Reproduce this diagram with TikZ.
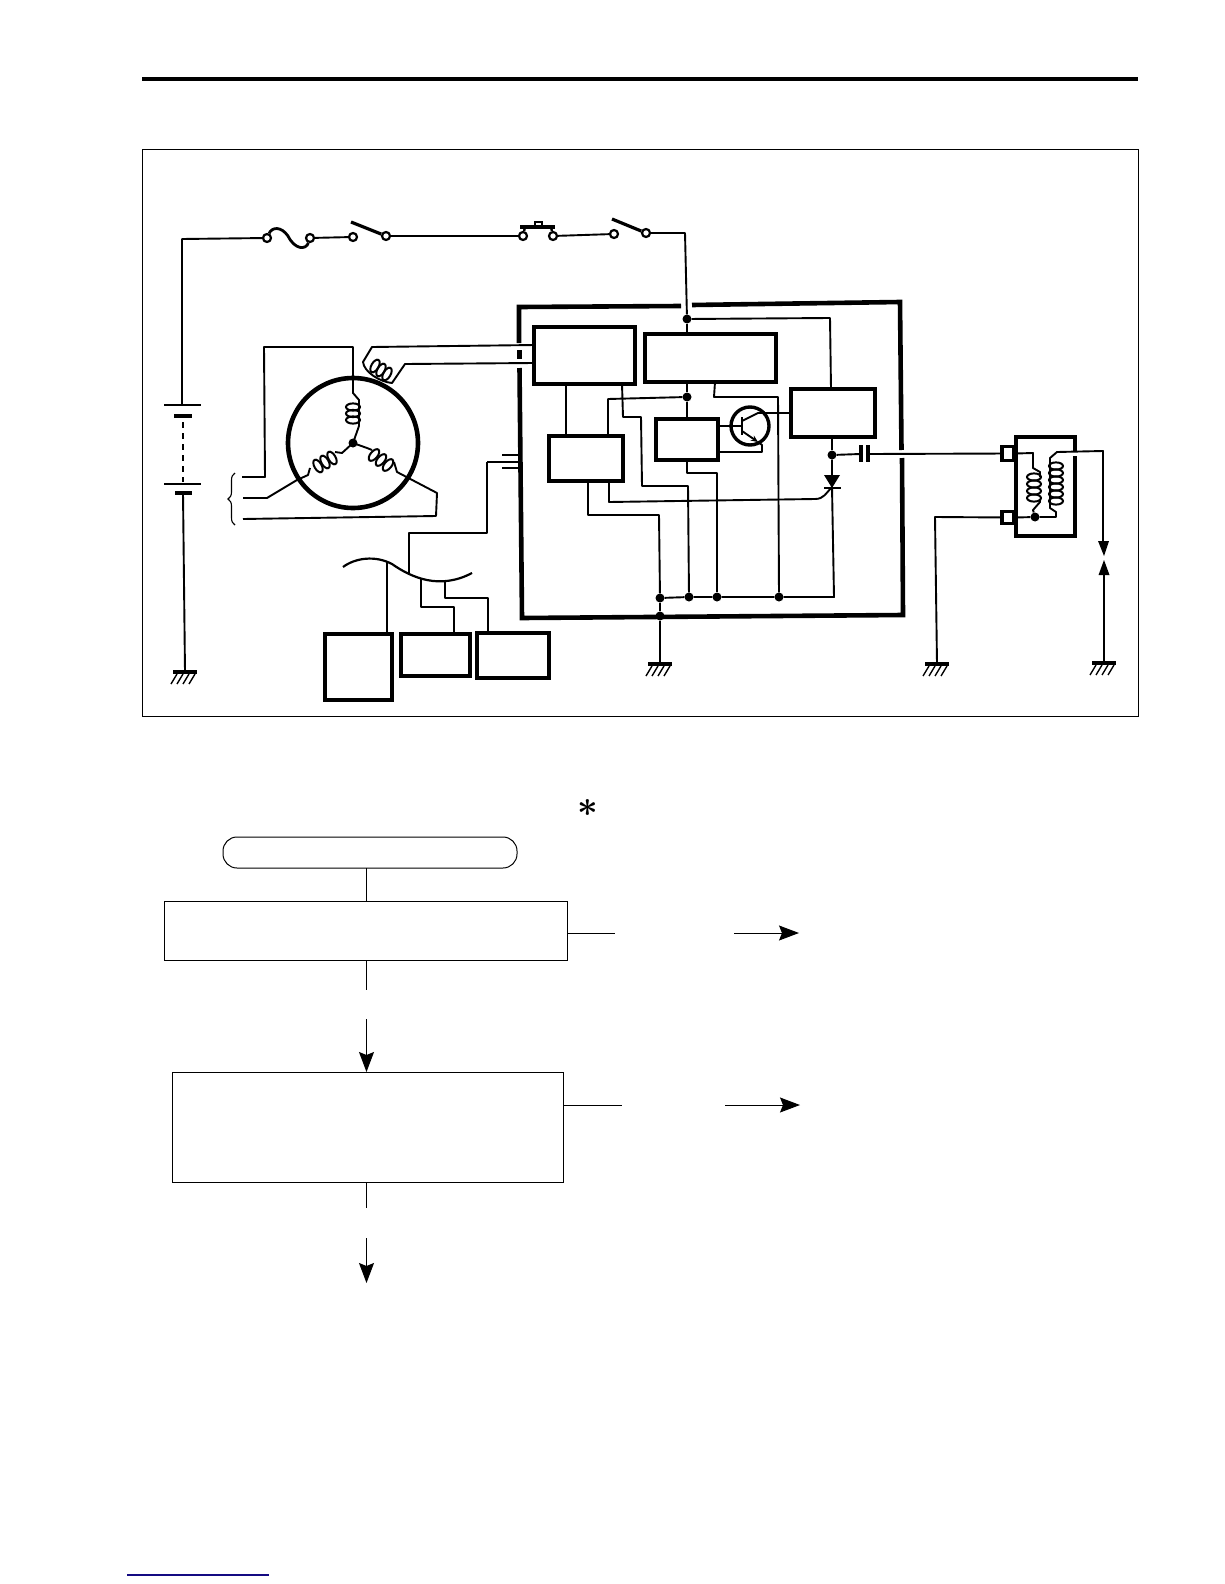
\documentclass[tikz,border=0pt]{standalone}
\usepackage{amsmath, amssymb}
\usetikzlibrary{arrows.meta, decorations.pathreplacing, positioning}
\definecolor{linknavy}{RGB}{20,10,130}
\tikzset{
	wire/.style={line width=1.9pt, line join=round},
	heavy/.style={line width=4.6pt, line join=miter},
	icbox/.style={draw, line width=4.6pt, inner sep=0pt, outer sep=0pt, fill=white},
	flowbox/.style={draw, line width=1pt, inner sep=0pt, outer sep=0pt},
	flowline/.style={line width=1pt},
	flowarrow/.style={line width=1pt, -{Stealth[length=20pt, width=15pt, inset=3pt]}},
	jdot/.style={circle, fill=black, inner sep=0pt, minimum size=9pt},
	opin/.style={circle, draw, fill=white, line width=2.2pt, inner sep=0pt, minimum size=8pt},
	gndmark/.pic={
		\draw [line width=4pt] (-12,0) -- (12,0);
		\foreach \i in {-8,-2,4,10} \draw [line width=1.4pt] (\i,2) -- (\i-6,12);
	}
}
\newcommand{\coilloops}[2]{\foreach \p in {#2} \draw [line width=2pt, rotate around={#1:(\p)}] (\p) ellipse [x radius=7, y radius=3.6];}
\begin{document}
\begin{tikzpicture}[x=1pt, y=-1pt]
	\path [use as bounding box, fill=white] (0,0) rectangle (1224,1584);
	\draw [line width=4pt] (142,79) -- (1138,79);
	\draw [line width=1pt] (142,149) rectangle (1138,716);
	\draw [line width=1.3pt, linknavy] (127,1575) -- (269,1575);

	% top line, fuse and switches
	\node [opin] (fusea) at (267,238) {};
	\node [opin] (fuseb) at (310,238) {};
	\node [opin] (swa) at (353,237) {};
	\node [opin] (swb) at (386,236) {};
	\node [opin] (pusha) at (523,236) {};
	\node [opin] (pushb) at (553,236) {};
	\node [opin] (swc) at (614,234) {};
	\node [opin] (swd) at (646,233) {};
	\node [jdot] (dottop) at (687,319) {};
	\coordinate (battop) at (182,405);
	\coordinate (batlow) at (183,493);
	\draw [wire] (battop) -- (182,239) -- (fusea);
	\draw [line width=2.8pt] (fusea) .. controls (272,227) and (281,226) .. (288,236) .. controls (295,250) and (306,250) .. (fuseb);
	\draw [wire] (fuseb) -- (swa);
	\draw [line width=3.2pt] (351,222) -- (swb);
	\draw [wire] (swb) -- (pusha);
	\draw [line width=3.2pt] (520,227) -- (555,227);
	\draw [line width=1.5pt] (535,227) rectangle (542,222);
	\draw [line width=2.4pt] (pusha) -- (525,227) (pushb) -- (551,227);
	\draw [wire] (pushb) -- (swc);
	\draw [line width=3.2pt] (612,219) -- (swd);
	\draw [wire] (swd) -- (685,233) -- (dottop);

	% battery
	\draw [line width=1.5pt] (164,405) -- (201,405) (164,484) -- (201,484);
	\draw [line width=4.4pt] (174,416) -- (192,416) (175,493) -- (192,493);
	\draw [wire, dash pattern=on 6pt off 5pt] (183,422) -- (183,482);
	\coordinate (gndbat) at (185,672);
	\draw [wire] (batlow) -- (gndbat);
	\pic at (gndbat) {gndmark};

	% stator
	\coordinate (hub) at (353,443);
	\draw [heavy] (hub) circle [radius=65];
	\draw [wire] (242,477) -- (265,477) -- (264,347) -- (353,347) -- (353,393) -- (359,400) -- (359,426) -- (hub);
	\draw [wire] (hub) -- (342,453) -- (335,452) (310,468) -- (308,475) -- (297,480) -- (267,498) -- (243,498);
	\draw [wire] (hub) -- (367,448) -- (372,450) (394,462) -- (397,472) -- (437,493) -- (436,516) -- (243,519);
	\fill (hub) circle [radius=4.5];
	\coilloops{0}{{353,407},{353,413.5},{353,420}}
	\coilloops{120}{{332,458},{325,462},{318,466}}
	\coilloops{50}{{374,455},{381,460},{388,465}}
	\draw [line width=1.1pt, decorate, decoration={brace, amplitude=7pt}] (235,525) -- (235,473);

	% pickup coil
	\draw [wire] (535,345) -- (372,347) -- (363,362) .. controls (364,372) and (380,382) .. (392,383) -- (405,364) -- (534,363);
	\coilloops{60}{{375,366},{381,370},{387,374}}

	% ignitor case
	\draw [heavy] (681,306) -- (519,307) -- (519,343);
	\draw [heavy] (519.5,350) -- (519.5,359);
	\draw [heavy] (519.5,368) -- (522,618) -- (903,615) -- (902,458);
	\draw [heavy] (901.5,450) -- (900,302) -- (692,305);

	\node [icbox, minimum width=101pt, minimum height=57pt] (boxa) at (584.5,355.5) {};
	\node [icbox, minimum width=131pt, minimum height=48pt] (boxb) at (710.5,358) {};
	\node [icbox, minimum width=84pt, minimum height=48pt] (boxc) at (833,413) {};
	\node [icbox, minimum width=74pt, minimum height=45pt] (boxd) at (586,458.5) {};
	\node [icbox, minimum width=62pt, minimum height=41pt] (boxe) at (687,439.5) {};

	\node [jdot] (dotmid) at (687,397) {};
	\node [jdot] (dotcap) at (832,455) {};
	\node [jdot] (dotg) at (660,598) {};
	\node [jdot] (dotp) at (689,597) {};
	\node [jdot] (dotq) at (717,597) {};
	\node [jdot] (dotr) at (779,597) {};
	\node [jdot] (dots) at (660,616) {};
	\coordinate (gndic) at (660,664);

	\draw [wire] (dottop) -- (687,0 |- boxb.north);
	\draw [wire] (dottop) -- (830,318) -- (831,0 |- boxc.north);
	\draw [wire] (566,0 |- boxa.south) -- (566,0 |- boxd.north);
	\draw [wire] (622,0 |- boxa.south) -- (623,417) -- (641,417) -- (642,486) -- (688,486) -- (dotp);
	\draw [wire] (687,0 |- boxb.south) -- (dotmid) -- (687,0 |- boxe.north);
	\draw [wire] (dotmid) -- (608,399) -- (608,0 |- boxd.north);
	\draw [wire] (715,0 |- boxb.south) -- (714,397) -- (778,397) -- (dotr);
	\draw [wire] (687,0 |- boxe.south) -- (687,473) -- (717,473) -- (dotq);
	\draw [wire] (588,0 |- boxd.south) -- (588,515) -- (659,515) -- (dotg);
	\draw [wire] (609,0 |- boxd.south) -- (609,502) -- (815,499) .. controls (824,499) and (826,493) .. (832,487);
	\draw [wire] (832,0 |- boxc.south) -- (dotcap);
	\draw [wire] (dotcap) -- (832,476) (832,487) -- (834,597) -- (dotr) -- (dotq) -- (dotp) -- (dotg);
	\draw [wire] (dotg) -- (dots) -- (gndic);
	\pic at (gndic) {gndmark};

	% thyristor
	\fill (824,475) -- (840,475) -- (832,488) -- cycle;
	\draw [line width=2.8pt] (824,488) -- (841,488);

	% transistor
	\node [circle, draw, line width=3.4pt, inner sep=0pt, minimum size=38pt] (trans) at (750,426) {};
	\draw [wire] (boxe.east |- trans) -- (trans.west) -- (742,426);
	\draw [line width=2.8pt] (742,417) -- (742,435);
	\draw [wire] (742,421) -- (758,413) -- (boxc.west |- 0,413);
	\draw [wire, -{Stealth[length=7pt, width=6pt]}] (742,431) -- (758,442);
	\draw [wire] (758,442) -- (762,445) -- (762,452) -- (boxe.east |- 0,452);

	% capacitor and coil wire
	\draw [wire] (dotcap) -- (860,454);
	\draw [line width=4pt] (861,445) -- (861,462) (868,445) -- (868,462);
	\node [draw, line width=3.4pt, fill=white, inner sep=0pt, minimum width=12pt, minimum height=14pt] (pina) at (1008,453.5) {};
	\node [draw, line width=3.4pt, fill=white, inner sep=0pt, minimum width=12pt, minimum height=12pt] (pinb) at (1008,517.5) {};
	\draw [wire] (868,454) -- (pina);

	% ignition coil
	\draw [line width=3.8pt] (1075,451) -- (1075,437) -- (1016,437) -- (1016,536) -- (1075,536) -- (1075,456);
	\node [jdot] (dotcoil) at (1035,517) {};
	\draw [wire] (pina.east) -- (1033,453) -- (1033,468) -- (1040,472) -- (1040,477) (1040,499) -- (1040,502) -- (1033,510) -- (dotcoil);
	\coilloops{0}{{1034,477},{1034,484},{1034,491},{1034,498}}
	\coilloops{0}{{1056,466},{1056,473},{1056,480},{1056,487},{1056,494},{1056,501}}
	\draw [wire] (pinb.east) -- (dotcoil) -- (1056,517) -- (1056,512) -- (1050,508) -- (1050,458) -- (1057,452) -- (1103,451) -- (1103,541);
	\fill (1098,541) -- (1109,541) -- (1104,556) -- cycle;

	% spark gap and earths
	\coordinate (gndplug) at (1104,663);
	\coordinate (gndcoil) at (937,664);
	\fill (1104,560) -- (1098.5,575) -- (1109.5,575) -- cycle;
	\draw [wire] (1104,575) -- (gndplug);
	\pic at (gndplug) {gndmark};
	\draw [wire] (pinb) -- (935,517) -- (gndcoil);
	\pic at (gndcoil) {gndmark};

	% harness to the lower boxes
	\draw [wire] (502,455) -- (518,455) (487,462) -- (518,462) (502,468) -- (518,468);
	\draw [wire] (487,462) -- (487,533) -- (409,533) -- (409,573);
	\draw [line width=2.2pt] (343,567) .. controls (355,558) and (375,555) .. (392,564) .. controls (412,578) and (440,590) .. (472,573);
	\node [icbox, minimum width=67pt, minimum height=66pt] (boxf) at (358.5,667) {};
	\node [icbox, minimum width=69pt, minimum height=42pt] (boxg) at (435.5,655) {};
	\node [icbox, minimum width=72pt, minimum height=45pt] (boxh) at (513,655.5) {};
	\draw [wire] (387,562) -- (387,0 |- boxf.north);
	\draw [wire] (421,579) -- (421,607) -- (454,607) -- (454,0 |- boxg.north);
	\draw [wire] (445,581) -- (445,598) -- (488,598) -- (488,0 |- boxh.north);

	% flow chart
	\node [draw, line width=1pt, rounded corners=14pt, minimum width=294pt, minimum height=31pt, inner sep=0pt, outer sep=0pt] (start) at (370,852.5) {};
	\node [flowbox, minimum width=403pt, minimum height=59pt] (stepone) at (365.5,930.5) {};
	\node [flowbox, minimum width=391pt, minimum height=110pt] (steptwo) at (367.5,1127) {};
	\node at (588,808) {\scalebox{3.6}{\boldmath$\ast$}};
	\coordinate (gapa) at (366.5,990);
	\coordinate (gapb) at (366.5,1019);
	\coordinate (gapc) at (366.5,1208);
	\coordinate (gapd) at (366.5,1238);
	\coordinate (enda) at (366.5,1283);
	\coordinate (rta) at (615,933);
	\coordinate (rtb) at (734,933);
	\coordinate (rtc) at (799,933);
	\coordinate (rtd) at (622,1105);
	\coordinate (rte) at (725,1105);
	\coordinate (rtf) at (800,1105);
	\draw [flowline] (366.5,0 |- start.south) -- (366.5,0 |- stepone.north);
	\draw [flowline] (366.5,0 |- stepone.south) -- (gapa);
	\draw [flowarrow] (gapb) -- (366.5,0 |- steptwo.north);
	\draw [flowline] (366.5,0 |- steptwo.south) -- (gapc);
	\draw [flowarrow] (gapd) -- (enda);
	\draw [flowline] (stepone.east |- rta) -- (rta);
	\draw [flowarrow] (rtb) -- (rtc);
	\draw [flowline] (steptwo.east |- rtd) -- (rtd);
	\draw [flowarrow] (rte) -- (rtf);
\end{tikzpicture}
\end{document}
